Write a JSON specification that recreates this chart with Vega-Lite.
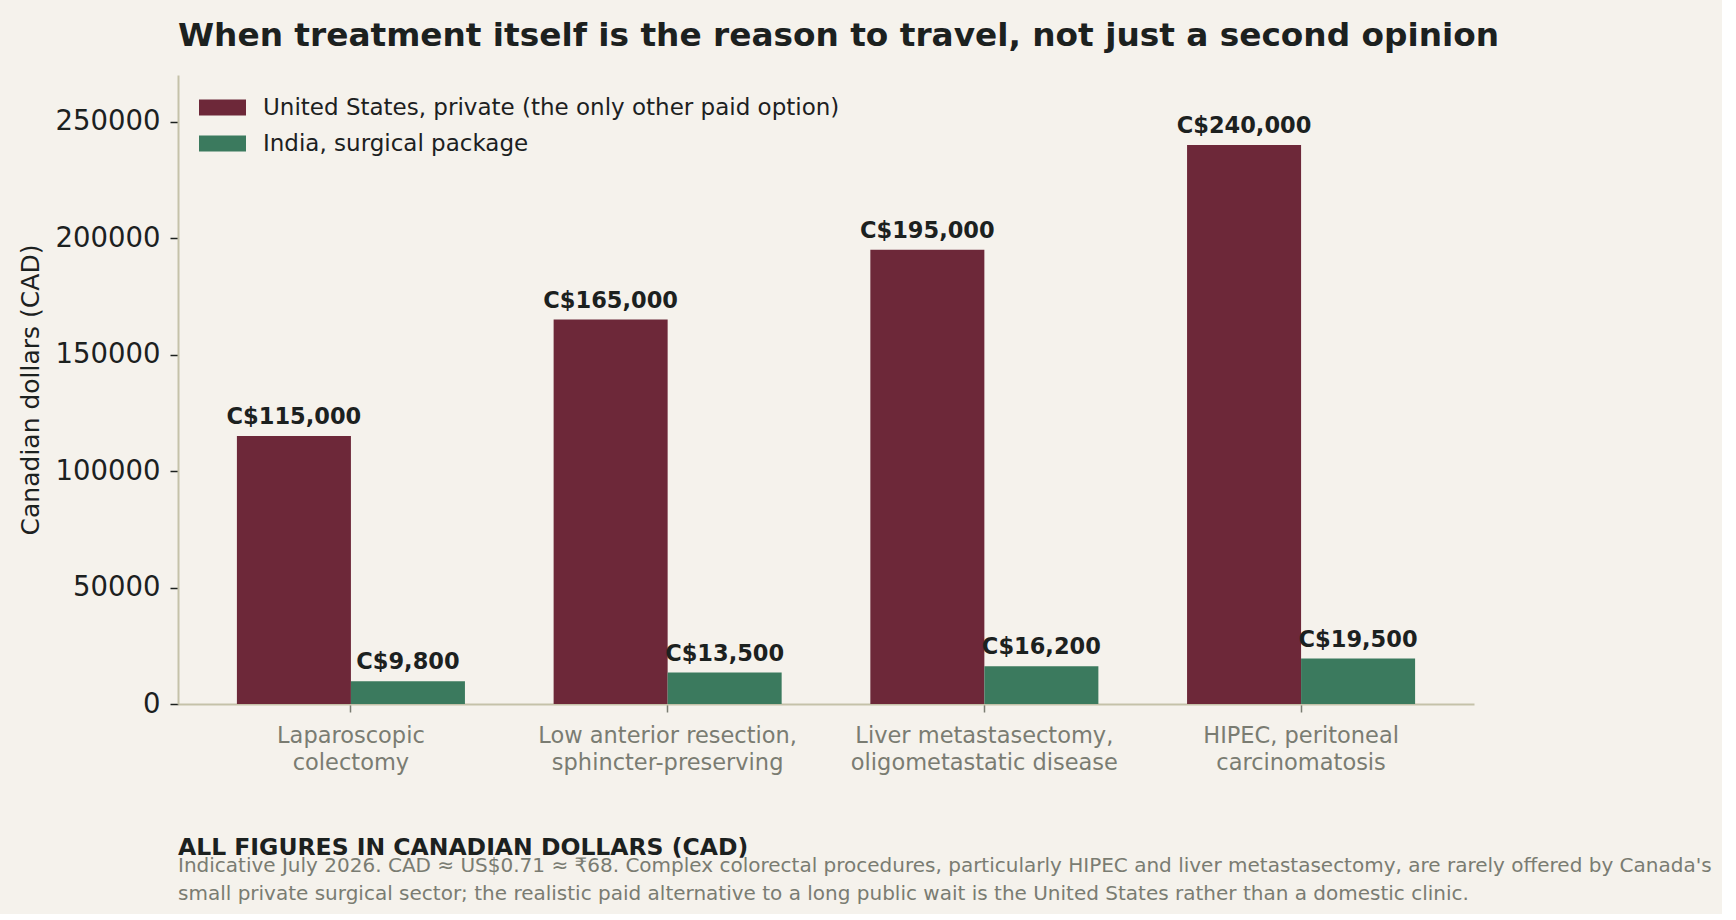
{
  "$schema": "https://vega.github.io/schema/vega-lite/v6.json",
  "background": "#f5f2ec",
  "padding": {"left": 18, "top": 20, "right": 10, "bottom": 10},
  "title": {
    "text": "ALL FIGURES IN CANADIAN DOLLARS (CAD)",
    "subtitle": [
      "Indicative July 2026. CAD ≈ US$0.71 ≈ ₹68. Complex colorectal procedures, particularly HIPEC and liver metastasectomy, are rarely offered by Canada's",
      "small private surgical sector; the realistic paid alternative to a long public wait is the United States rather than a domestic clinic."
    ],
    "orient": "bottom",
    "anchor": "start",
    "frame": "group",
    "dx": 0,
    "offset": 62,
    "font": "DejaVu Sans",
    "fontSize": 23.5,
    "fontWeight": "bold",
    "color": "#1c211f",
    "subtitleFont": "DejaVu Sans",
    "subtitleFontSize": 20,
    "subtitleColor": "#7a7c72",
    "subtitlePadding": -3,
    "subtitleLineHeight": 28
  },
  "datasets": {
    "costs": [
      {"procedure": "Laparoscopic\ncolectomy", "provider": "United States, private (the only other paid option)", "cost": 115000},
      {"procedure": "Laparoscopic\ncolectomy", "provider": "India, surgical package", "cost": 9800},
      {"procedure": "Low anterior resection,\nsphincter-preserving", "provider": "United States, private (the only other paid option)", "cost": 165000},
      {"procedure": "Low anterior resection,\nsphincter-preserving", "provider": "India, surgical package", "cost": 13500},
      {"procedure": "Liver metastasectomy,\noligometastatic disease", "provider": "United States, private (the only other paid option)", "cost": 195000},
      {"procedure": "Liver metastasectomy,\noligometastatic disease", "provider": "India, surgical package", "cost": 16200},
      {"procedure": "HIPEC, peritoneal\ncarcinomatosis", "provider": "United States, private (the only other paid option)", "cost": 240000},
      {"procedure": "HIPEC, peritoneal\ncarcinomatosis", "provider": "India, surgical package", "cost": 19500}
    ]
  },
  "vconcat": [
    {
      "width": 1296,
      "height": 629,
      "title": {
        "text": "When treatment itself is the reason to travel, not just a second opinion",
        "anchor": "start",
        "frame": "group",
        "font": "DejaVu Sans",
        "fontSize": 32.75,
        "fontWeight": "bold",
        "color": "#1c211f",
        "offset": 22
      },
      "data": {"name": "costs"},
      "transform": [
        {"calculate": "'C$' + format(datum.cost, ',')", "as": "label"}
      ],
      "encoding": {
        "x": {
          "field": "procedure",
          "type": "nominal",
          "sort": null,
          "scale": {"paddingInner": 0.28, "paddingOuter": 0.186},
          "axis": {
            "title": null,
            "labelAngle": 0,
            "labelExpr": "split(datum.label, '\\n')",
            "labelFont": "DejaVu Sans",
            "labelFontSize": 22.5,
            "labelColor": "#7a7c72",
            "labelLineHeight": 27,
            "labelPadding": 12,
            "labelLimit": 500,
            "tickSize": 8,
            "tickWidth": 1.5,
            "tickColor": "#7a7c72",
            "domainColor": "#c5c2a9",
            "domainWidth": 2
          }
        },
        "xOffset": {
          "field": "provider",
          "type": "nominal",
          "sort": ["United States, private (the only other paid option)", "India, surgical package"]
        },
        "y": {
          "field": "cost",
          "type": "quantitative",
          "scale": {"domain": [0, 270000], "nice": false},
          "axis": {
            "title": "Canadian dollars (CAD)",
            "values": [0, 50000, 100000, 150000, 200000, 250000],
            "format": "d",
            "grid": false,
            "labelFont": "DejaVu Sans",
            "labelFontSize": 27.5,
            "labelColor": "#1c211f",
            "labelPadding": 10,
            "tickSize": 8,
            "tickWidth": 1.5,
            "tickColor": "#1c211f",
            "domainColor": "#c5c2a9",
            "domainWidth": 2,
            "titleFont": "DejaVu Sans",
            "titleFontSize": 25,
            "titleFontWeight": "normal",
            "titleColor": "#1c211f",
            "titlePadding": 12
          }
        }
      },
      "layer": [
        {
          "mark": {"type": "bar"},
          "encoding": {
            "color": {
              "field": "provider",
              "type": "nominal",
              "sort": ["United States, private (the only other paid option)", "India, surgical package"],
              "scale": {
                "domain": ["United States, private (the only other paid option)", "India, surgical package"],
                "range": ["#6d2839", "#3b7a5e"]
              },
              "legend": {
                "title": null,
                "orient": "none",
                "legendX": 21,
                "legendY": 9,
                "symbolType": "M-1,-0.34L1,-0.34L1,0.34L-1,0.34Z",
                "symbolSize": 2209,
                "symbolStrokeWidth": 0,
                "labelFont": "DejaVu Sans",
                "labelFontSize": 23,
                "labelColor": "#1c211f",
                "labelOffset": 17,
                "labelLimit": 800,
                "rowPadding": -3
              }
            }
          }
        },
        {
          "mark": {
            "type": "text",
            "baseline": "alphabetic",
            "align": "center",
            "dy": -12,
            "font": "DejaVu Sans",
            "fontSize": 22.5,
            "fontWeight": "bold",
            "color": "#1c211f"
          },
          "encoding": {
            "text": {"field": "label", "type": "nominal"}
          }
        }
      ]
    }
  ],
  "config": {
    "view": {"stroke": null},
    "font": "DejaVu Sans"
  }
}
